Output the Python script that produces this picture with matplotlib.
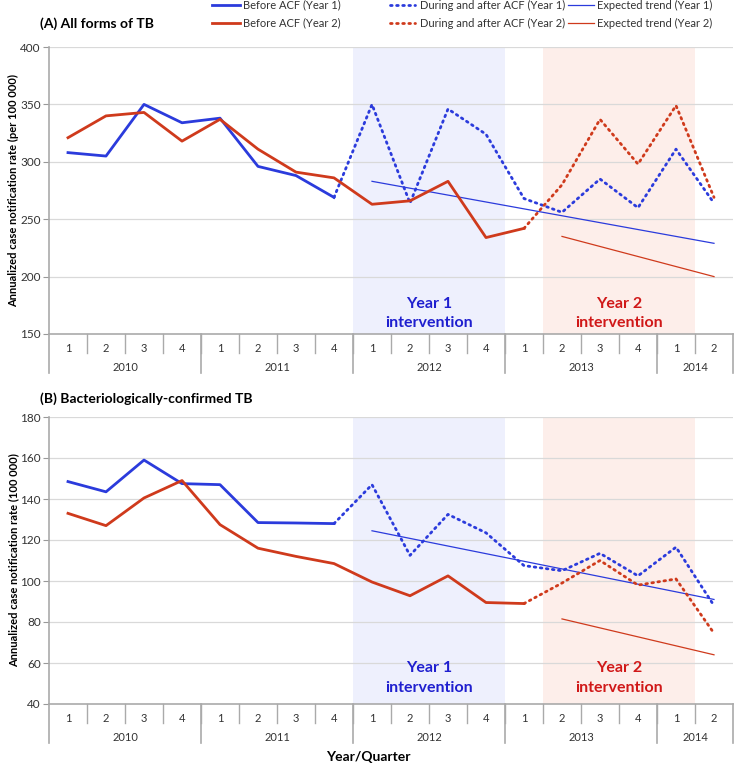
import numpy as np
import matplotlib
matplotlib.use("Agg")
import matplotlib.pyplot as plt
import matplotlib.transforms as mtransforms
from matplotlib.lines import Line2D

plt.rcParams['font.family'] = ['Lato', 'DejaVu Sans']

# category axis
quarters = ['1', '2', '3', '4'] * 4 + ['1', '2']
years = ['2010', '2011', '2012', '2013', '2014']
year_counts = [4, 4, 4, 4, 2]

# panel A - all forms of TB
a_before_y1 = [308, 305, 350, 334, 338, 296, 288, 269]               # 2010Q1-2011Q4
a_during_y1 = [269, 350, 264, 346, 324, 268, 256, 285, 260, 311, 264]  # 2011Q4-2014Q2
a_before_y2 = [321, 340, 343, 318, 337, 311, 291, 286, 263, 266, 283, 234, 242]  # 2010Q1-2013Q1
a_during_y2 = [242, 280, 337, 298, 349, 269]                          # 2013Q1-2014Q2
a_trend_y1 = [283, 229]   # 2012Q1 -> 2014Q2
a_trend_y2 = [235, 200]   # 2013Q2 -> 2014Q2

# panel B - bacteriologically-confirmed TB
b_before_y1 = [148.5, 143.5, 159, 147.5, 147, 128.5, 128.3, 128]
b_during_y1 = [128, 147, 112.5, 132.5, 123.5, 107.5, 105, 113.5, 102.5, 116.5, 88]
b_before_y2 = [133, 127, 140.5, 149, 127.5, 116, 112, 108.5, 99.5, 92.8, 102.5, 89.5, 89]
b_during_y2 = [89, 99, 110, 98, 101, 74.5]
b_trend_y1 = [124.5, 91]
b_trend_y2 = [81.5, 64]

BLUE = '#2b3bdc'
RED = '#cf3a1c'
TXT_BLUE = '#1f1fcf'
TXT_RED = '#d01818'
DOTS = (0, (0.6, 1.6))

W, H = 747, 772
fig = plt.figure(figsize=(W / 100, H / 100), dpi=100)


def draw_panel(ax, data, ylim, yticks, ylabel, label_y):
    bef1, dur1, bef2, dur2, tr1, tr2 = data
    ax.set_xlim(-0.5, 17.5)
    ax.set_ylim(*ylim)
    ax.axvspan(7.5, 11.5, color='#eef0fd', zorder=0, lw=0)
    ax.axvspan(12.5, 16.5, color='#fdeeea', zorder=0, lw=0)
    for t in yticks[1:]:
        ax.axhline(t, color='#d9d9d9', lw=0.9, zorder=1)

    ax.plot(range(0, 8), bef1, color=BLUE, lw=2.0, zorder=4)
    ax.plot(range(7, 18), dur1, color=BLUE, lw=2.0, ls=DOTS,
            dash_capstyle='round', zorder=4)
    ax.plot(range(0, 13), bef2, color=RED, lw=2.0, zorder=4)
    ax.plot(range(12, 18), dur2, color=RED, lw=2.0, ls=DOTS,
            dash_capstyle='round', zorder=4)
    ax.plot([8, 17], tr1, color=BLUE, lw=0.9, zorder=3)
    ax.plot([13, 17], tr2, color=RED, lw=0.9, zorder=3)

    ax.set_yticks(yticks)
    ax.set_xticks([])
    ax.tick_params(axis='y', length=4, color='#999999', labelsize=8.5,
                   labelcolor='#333333', pad=2)
    for s in ['top', 'right']:
        ax.spines[s].set_visible(False)
    for s in ['left', 'bottom']:
        ax.spines[s].set_color('#aaaaaa')
        ax.spines[s].set_linewidth(1.2)

    # multi-level category axis
    tr = mtransforms.blended_transform_factory(ax.transData, ax.transAxes)
    for i, q in enumerate(quarters):
        ax.text(i, -0.049, q, transform=tr, ha='center', va='center',
                fontsize=8, color='#333333')
    for i in range(1, 18):
        ax.plot([i - 0.5, i - 0.5], [0, -0.066], transform=tr, color='#aaaaaa',
                lw=1.0, clip_on=False)
    start = 0
    bounds = [-0.5]
    for y, n in zip(years, year_counts):
        ax.text(start + (n - 1) / 2, -0.118, y, transform=tr, ha='center',
                va='center', fontsize=8, color='#333333')
        start += n
        bounds.append(start - 0.5)
    for b in bounds:
        ax.plot([b, b], [0, -0.136], transform=tr, color='#aaaaaa', lw=1.2,
                clip_on=False)

    for xc, name, col in [(9.5, 'Year 1', TXT_BLUE), (14.5, 'Year 2', TXT_RED)]:
        ax.text(xc, label_y[0], name, ha='center', va='center', fontsize=11.5,
                fontweight='bold', color=col)
        ax.text(xc, label_y[1], 'intervention', ha='center', va='center',
                fontsize=11.5, fontweight='bold', color=col)

    ax.set_ylabel(ylabel, fontsize=8, fontweight='bold')
    ax.yaxis.set_label_coords(-30 / 684, 0.5)


axA = fig.add_axes([49 / W, 1 - 334 / H, 684 / W, 287 / H])
draw_panel(axA, (a_before_y1, a_during_y1, a_before_y2, a_during_y2, a_trend_y1, a_trend_y2),
           (150, 400), [150, 200, 250, 300, 350, 400],
           'Annualized case notification rate (per 100 000)', (176, 160))

axB = fig.add_axes([49 / W, 1 - 704 / H, 684 / W, 287 / H])
draw_panel(axB, (b_before_y1, b_during_y1, b_before_y2, b_during_y2, b_trend_y1, b_trend_y2),
           (40, 180), [40, 60, 80, 100, 120, 140, 160, 180],
           'Annualized case notification rate (100 000)', (57.6, 47.8))

fig.text(40 / W, 1 - 24 / H, '(A) All forms of TB', fontsize=10,
         fontweight='bold', va='center', ha='left')
fig.text(40 / W, 1 - 399 / H, '(B) Bacteriologically-confirmed TB',
         fontsize=10, fontweight='bold', va='center', ha='left')
fig.text(368 / W, 1 - 757 / H, 'Year/Quarter', fontsize=10,
         fontweight='bold', va='center', ha='center')

# legend, laid out by hand in three columns
leg_cols = [(212, 240, 243), (390, 415, 420), (568, 594, 597)]
leg_rows = [5, 23]
leg_items = [
    [('Before ACF (Year 1)', BLUE, '-', 2.0), ('Before ACF (Year 2)', RED, '-', 2.0)],
    [('During and after ACF (Year 1)', BLUE, DOTS, 2.0),
     ('During and after ACF (Year 2)', RED, DOTS, 2.0)],
    [('Expected trend (Year 1)', BLUE, '-', 0.9), ('Expected trend (Year 2)', RED, '-', 0.9)],
]
for (x0, x1, xt), items in zip(leg_cols, leg_items):
    for yy, (lab, col, ls, lw) in zip(leg_rows, items):
        fy = 1 - yy / H
        fig.add_artist(Line2D([x0 / W, x1 / W], [fy, fy], color=col, ls=ls, lw=lw,
                              dash_capstyle='round', transform=fig.transFigure))
        fig.text(xt / W, fy, lab, fontsize=8, va='center', ha='left', color='#333333')

fig.savefig('out.png', dpi=100)
